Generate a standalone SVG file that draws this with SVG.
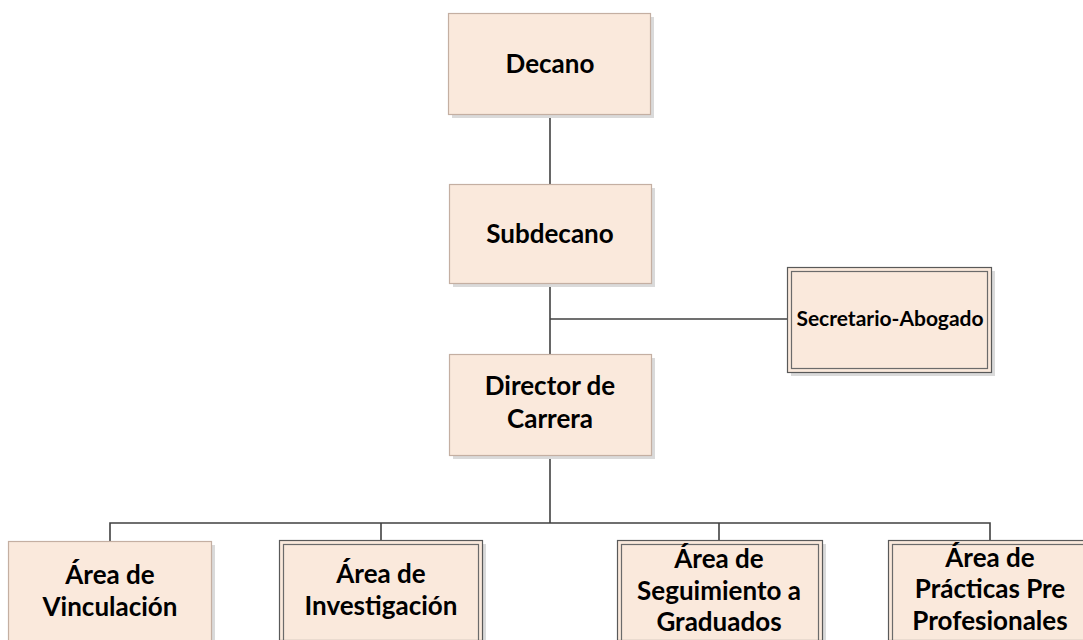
<svg xmlns="http://www.w3.org/2000/svg" width="1083" height="640" viewBox="0 0 1083 640">
<style>
.box{fill:#FAE9DC;stroke:#C4AFA2;stroke-width:1.2}
.dbox{fill:#FAE9DC;stroke:#595959;stroke-width:1.2}
.inner{fill:none;stroke:#6b6b6b;stroke-width:1.2}
.sh{fill:#DADADA}
.t{font-family:Lato,"Open Sans","Liberation Sans",sans-serif;font-weight:bold;font-size:26px;fill:#000;text-anchor:middle}
.ts{font-size:21px}
.c{stroke:#404040;stroke-width:1.6;fill:none}
</style>
<rect width="1083" height="640" fill="#fff"/>
<g id="connectors">
<line class="c" x1="550" y1="114" x2="550" y2="184"/>
<line class="c" x1="550" y1="283" x2="550" y2="354"/>
<line class="c" x1="550" y1="319" x2="787" y2="319"/>
<line class="c" x1="550" y1="455" x2="550" y2="523"/>
<polyline class="c" points="110,541 110,523 990,523 990,541"/>
<line class="c" x1="381" y1="523" x2="381" y2="541"/>
<line class="c" x1="719" y1="523" x2="719" y2="541"/>
</g>
<g id="decano">
<rect class="sh" x="452" y="17" width="202" height="101"/>
<rect class="box" x="448.5" y="13.5" width="202" height="101"/>
<text class="t" x="550" y="73">Decano</text>
</g>
<g id="subdecano">
<rect class="sh" x="453" y="188" width="202" height="99"/>
<rect class="box" x="449.5" y="184.5" width="202" height="99"/>
<text class="t" x="550" y="243">Subdecano</text>
</g>
<g id="secretario">
<rect class="sh" x="791" y="271" width="204" height="105"/>
<rect class="dbox" x="787.5" y="267.5" width="204" height="105"/>
<rect class="inner" x="791.5" y="271.5" width="196" height="97"/>
<text class="t ts" x="890" y="326">Secretario-Abogado</text>
</g>
<g id="director">
<rect class="sh" x="453" y="358" width="202" height="101"/>
<rect class="box" x="449.5" y="354.5" width="202" height="101"/>
<text class="t" x="550" y="395">Director de</text>
<text class="t" x="550" y="428">Carrera</text>
</g>
<g id="vinculacion">
<rect class="sh" x="12" y="545" width="203" height="100"/>
<rect class="box" x="8.5" y="541.5" width="203" height="100"/>
<text class="t" x="110" y="584">Área de</text>
<text class="t" x="110" y="616">Vinculación</text>
</g>
<g id="investigacion">
<rect class="sh" x="283" y="544" width="203" height="100"/>
<rect class="dbox" x="279.5" y="540.5" width="203" height="100"/>
<rect class="inner" x="283.5" y="544.5" width="195" height="100"/>
<text class="t" x="381" y="583">Área de</text>
<text class="t" x="381" y="615">Investigación</text>
</g>
<g id="seguimiento">
<rect class="sh" x="621" y="544" width="205" height="100"/>
<rect class="dbox" x="617.5" y="540.5" width="205" height="100"/>
<rect class="inner" x="621.5" y="544.5" width="197" height="100"/>
<text class="t" x="719" y="568">Área de</text>
<text class="t" x="719" y="600">Seguimiento a</text>
<text class="t" x="719" y="631">Graduados</text>
</g>
<g id="practicas">
<rect class="sh" x="892" y="544" width="204" height="100"/>
<rect class="dbox" x="888.5" y="540.5" width="204" height="100"/>
<rect class="inner" x="892.5" y="544.5" width="196" height="100"/>
<text class="t" x="990" y="567">Área de</text>
<text class="t" x="990" y="598">Prácticas Pre</text>
<text class="t" x="990" y="630">Profesionales</text>
</g>
</svg>
